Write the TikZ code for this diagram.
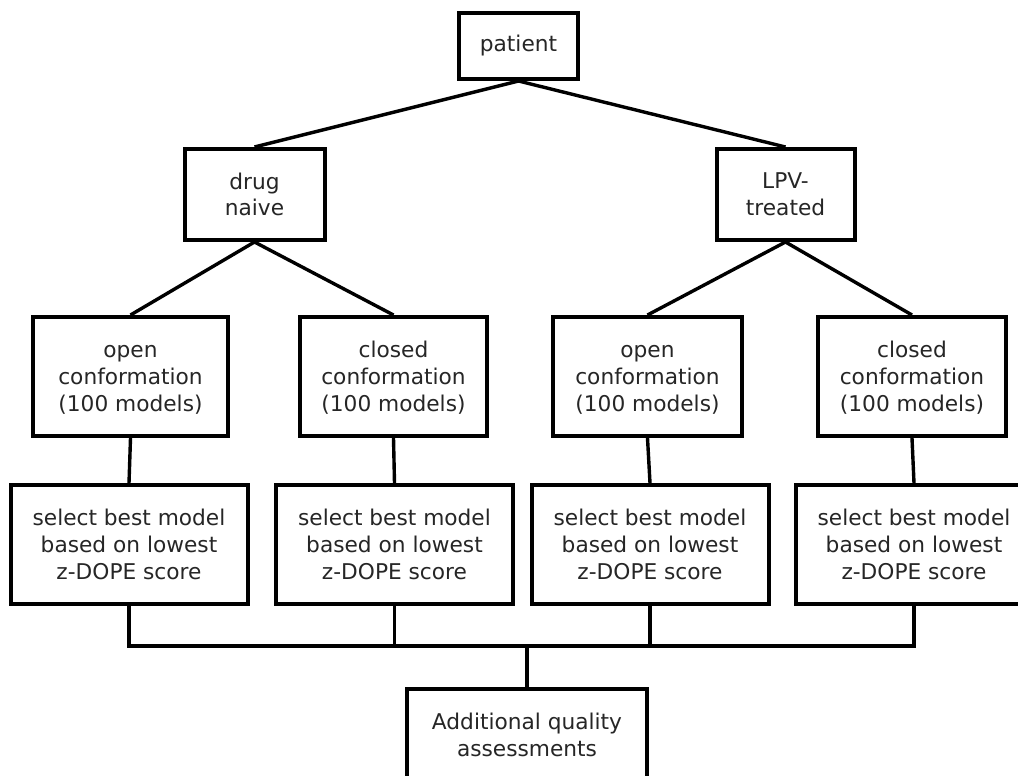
\documentclass[tikz,border=0pt]{standalone}
\usepackage{fontspec}
\setmainfont{DejaVu Sans}

\begin{document}
\begin{tikzpicture}[x=0.5pt,y=-0.5pt,
        box/.style={draw,line width=2pt,align=center,inner sep=0pt,text=black!85,
            font=\fontsize{10.85}{13.35}\selectfont},
        link/.style={line width=1.7pt,line cap=rect}]
        \useasboundingbox (0,0) rectangle (1018,776);
        \fill[white] (0,0) rectangle (1018,776);
        % top levels
        \node[box,minimum width=59.5pt,minimum height=33pt] (patient) at (518.5,46) {patient};
        \node[box,minimum width=70pt,minimum height=45.5pt] (naive) at (254.5,194.5) {drug\\naive};
        \node[box,minimum width=69pt,minimum height=45.5pt] (lpv) at (785.5,194.5) {LPV-\\treated};
        % conformations and selection
        \foreach \n/\x/\w/\kind in {1/130.5/97.5/open, 2/393.5/93.5/closed, 3/647.5/94.5/open, 4/912/94/closed}
            \node[box,minimum width=\w pt,minimum height=59.5pt] (conf\n) at (\x,376.5) {\strut\kind\\conformation\\(100 models)};
        \foreach \n/\x in {1/129, 2/394.5, 3/650, 4/914}
            \node[box,minimum width=118.5pt,minimum height=59.5pt] (sel\n) at (\x,544.5) {select best model\\based on lowest\\z-DOPE score};
        \node[box,minimum width=120pt,minimum height=46pt] (final) at (527,735) {Additional quality\\assessments};
        \coordinate (bus) at (527,646);
        % connectors
        \draw[link,line cap=butt] (naive.north) -- (patient.south) -- (lpv.north);
        \draw[link,line cap=butt] (conf1.north) -- (naive.south) -- (conf2.north);
        \draw[link,line cap=butt] (conf3.north) -- (lpv.south) -- (conf4.north);
        \foreach \n in {1,...,4} {
            \draw[link] (conf\n.south) -- (sel\n.north);
            \draw[link] (sel\n.south) -- (sel\n.south |- bus);
        }
        \draw[link] (sel1.south |- bus) -- (sel4.south |- bus);
        \draw[link] (bus) -- (final.north);
    \end{tikzpicture}
\end{document}
